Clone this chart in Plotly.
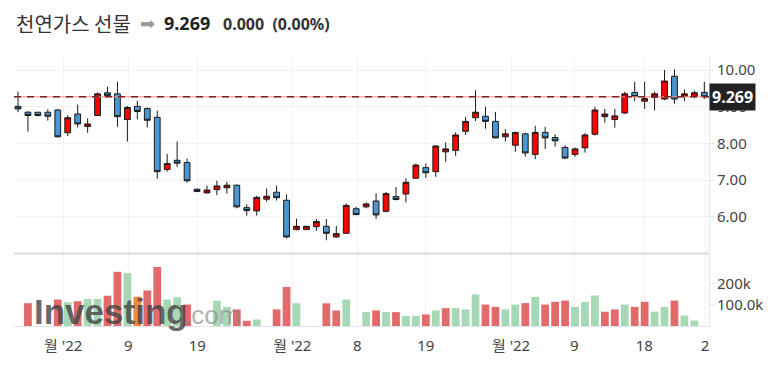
import plotly.graph_objects as go

# ---------------- data ----------------
opens  = [9.01, 8.85, 8.85, 8.85, 8.91, 8.29, 8.80, 8.46, 8.76, 9.38,
          9.35, 8.65, 9.01, 8.95, 8.71, 7.29, 7.54, 7.48, 6.75, 6.65,
          6.74, 6.79, 6.86, 6.25, 6.16, 6.48, 6.67, 6.45, 5.65, 5.65,
          5.73, 5.74, 5.45, 5.55, 6.22, 6.27, 6.43, 6.15, 6.55, 6.62,
          7.05, 7.34, 7.23, 7.77, 7.81, 8.33, 8.70, 8.74, 8.60, 8.18,
          7.95, 8.26, 7.70, 8.30, 8.16, 7.89, 7.70, 7.88, 8.25, 8.73,
          8.65, 8.83, 9.39, 9.15, 9.25, 9.21, 9.83, 9.28, 9.28, 9.39]
highs  = [9.41, 8.88, 8.86, 8.93, 8.94, 8.77, 9.06, 8.68, 9.39, 9.54,
          9.68, 9.02, 9.16, 8.98, 8.89, 7.71, 8.05, 7.59, 6.77, 6.85,
          6.98, 6.95, 6.88, 6.34, 6.57, 6.77, 6.85, 6.61, 5.95, 5.75,
          5.94, 5.94, 5.75, 6.36, 6.27, 6.39, 6.64, 6.68, 6.81, 7.05,
          7.45, 7.45, 7.95, 8.03, 8.30, 8.72, 9.45, 9.00, 8.86, 8.39,
          8.32, 8.29, 8.48, 8.45, 8.25, 7.95, 7.89, 8.28, 9.00, 8.94,
          8.94, 9.41, 9.68, 9.68, 9.41, 10.00, 10.02, 9.47, 9.44, 9.68]
lows   = [8.85, 8.32, 8.74, 8.62, 8.16, 8.20, 8.43, 8.29, 8.75, 9.25,
          8.45, 8.05, 8.66, 8.43, 7.03, 7.23, 7.36, 6.93, 6.67, 6.64,
          6.59, 6.63, 6.23, 6.03, 6.03, 6.41, 6.44, 5.41, 5.63, 5.64,
          5.62, 5.36, 5.43, 5.53, 6.04, 6.23, 5.94, 6.12, 6.45, 6.39,
          7.03, 7.06, 7.09, 7.50, 7.66, 8.23, 8.61, 8.40, 8.14, 8.05,
          7.77, 7.64, 7.57, 7.85, 7.91, 7.57, 7.64, 7.75, 8.21, 8.56,
          8.43, 8.80, 9.15, 8.94, 8.90, 9.18, 9.08, 9.15, 9.23, 9.21]
closes = [8.94, 8.76, 8.76, 8.74, 8.18, 8.70, 8.53, 8.53, 9.35, 9.30,
          8.73, 8.98, 8.87, 8.63, 7.23, 7.45, 7.46, 6.98, 6.69, 6.73,
          6.84, 6.86, 6.27, 6.17, 6.53, 6.56, 6.52, 5.45, 5.74, 5.74,
          5.87, 5.55, 5.54, 6.31, 6.06, 6.35, 6.05, 6.63, 6.47, 6.94,
          7.41, 7.20, 7.93, 7.85, 8.23, 8.60, 8.85, 8.60, 8.15, 8.26,
          8.30, 7.74, 8.30, 8.15, 8.07, 7.60, 7.85, 8.23, 8.91, 8.80,
          8.75, 9.35, 9.28, 9.22, 9.35, 9.70, 9.21, 9.35, 9.38, 9.269]

# volume in thousands (None = no bar) and its colour class
volumes = [None, 108.7, None, None, 126, 113.5, 118, 128, 129, 144,
           258, 251, 139, 169, 281, 126, 137, 102, None, None,
           120, 90, 79, 25, 31, None, 79, 186, 108, None,
           None, 108, 74, 126, None, 66, 74, 66, 66, 48,
           48, 55, 74, 85, 85, 79, 150, 102, 91, 79,
           102, 109, 139, 102, 115, 121, 91, 115, 145, 68,
           79, 102, 91, 115, 68, 91, 121, 50, 26, None]
vol_kind = ["g", "r", "g", "g", "r", "g", "r", "g", "g", "r",
            "r", "g", "o", "r", "r", "g", "g", "r", "g", "g",
            "g", "g", "r", "r", "g", "g", "r", "r", "g", "g",
            "g", "r", "r", "g", "g", "g", "r", "g", "r", "g",
            "g", "r", "g", "r", "g", "g", "g", "r", "r", "g",
            "g", "r", "g", "r", "r", "r", "g", "g", "g", "r",
            "r", "g", "r", "r", "g", "g", "r", "g", "g", "g"]

last_price = 9.269
x_tick_pos = [4.55, 11.09, 18.03, 27.58, 34.11, 40.99, 49.57, 55.93, 62.97, 69.07]
x_tick_txt = ["월 '22", "9", "19", "월 '22", "8", "19", "월 '22", "9", "18", "2"]
price_ticks = [6, 7, 8, 9, 10]
price_tick_txt = ["6.00", "7.00", "8.00", "9.00", "10.00"]
vol_ticks = [100000, 200000]
vol_tick_txt = ["100.0k", "200k"]

# ---------------- figure ----------------
idx = list(range(len(closes)))
vol_colors = {"r": "#e36a6a", "g": "#a6d8b6", "o": "#f0893a"}

fig = go.Figure()
fig.add_trace(go.Candlestick(
    x=idx, open=opens, high=highs, low=lows, close=closes,
    increasing=dict(fillcolor="#ff0000", line=dict(color="#1a1a1a", width=1)),
    decreasing=dict(fillcolor="#4b96d1", line=dict(color="#1a1a1a", width=1)),
    xaxis="x", yaxis="y", hoverinfo="skip", showlegend=False))

vx = [i for i, v in zip(idx, volumes) if v is not None]
vy = [v * 1000 for v in volumes if v is not None]
vc = [vol_colors[k] for k, v in zip(vol_kind, volumes) if v is not None]
fig.add_trace(go.Bar(x=vx, y=vy, marker=dict(color=vc, line=dict(width=0)),
                     width=0.78, xaxis="x2", yaxis="y2", showlegend=False,
                     hoverinfo="skip"))

# the page body has an 8px margin: figure pixel = page pixel - 8
OFF = 8
W, H = 781 - OFF, 365 - OFF
L, T = 14 - OFF, 57 - OFF
R = W - (709 - OFF)
B = H - (326 - OFF)
pw, ph = W - L - R, H - T - B


def px(xpage):
    return (xpage - OFF - L) / pw


def py(ypage):
    return (H - B - (ypage - OFF)) / ph


tickfont = dict(family="Noto Sans, Noto Sans CJK KR, sans-serif", size=15, color="#444")
xr = [-0.40, 69.47]

fig.update_layout(
    width=W, height=H, margin=dict(l=L, r=R, t=T, b=B, autoexpand=False),
    paper_bgcolor="white", plot_bgcolor="white",
    boxgap=0.3, boxgroupgap=0.17,
    xaxis=dict(domain=[0, 1], anchor="y", range=xr, tickvals=x_tick_pos,
               showticklabels=False, showgrid=True, gridcolor="#f3f3f3",
               zeroline=False, rangeslider=dict(visible=False), ticks=""),
    xaxis2=dict(domain=[0, 1], anchor="y2", matches="x", range=xr,
                tickvals=x_tick_pos, ticktext=x_tick_txt, tickfont=tickfont,
                showgrid=True, gridcolor="#f3f3f3", zeroline=False,
                showline=True, linecolor="#dfe4ea", linewidth=1,
                ticks="outside", ticklen=6, tickcolor="rgba(0,0,0,0)"),
    yaxis=dict(domain=[0.271, 1], anchor="x", side="right", range=[5.01, 10.355],
               tickvals=price_ticks, ticktext=price_tick_txt, tickfont=tickfont,
               showgrid=True, gridcolor="#f2f2f2", zeroline=False,
               showline=True, linecolor="#e3e7ec", ticks="outside", ticklen=4,
               tickcolor="#dfe3e8"),
    yaxis2=dict(domain=[0, 0.268], anchor="x2", side="right", range=[0, 343000],
                tickvals=vol_ticks, ticktext=vol_tick_txt, tickfont=tickfont,
                showgrid=False, zeroline=False, showline=True, linecolor="#e3e7ec",
                ticks="outside", ticklen=4, tickcolor="#dfe3e8"),
)

# last price line (light pink under-line + dark red dashes)
fig.add_shape(type="line", xref="paper", yref="y", x0=0, x1=1, y0=last_price, y1=last_price,
              line=dict(color="rgba(240,140,140,0.7)", width=1.5))
fig.add_shape(type="line", xref="paper", yref="y", x0=0, x1=1, y0=last_price, y1=last_price,
              line=dict(color="#7a2424", width=1.5, dash="7px,6px"))
# pane separator
fig.add_shape(type="line", xref="paper", yref="paper", x0=0, x1=1, y0=py(253.5), y1=py(253.5),
              line=dict(color="#dcdcdc", width=2))

# price label box
fig.add_annotation(xref="paper", yref="y", x=1, y=last_price, xanchor="left", yanchor="middle",
                   text="<b>9.269</b>", showarrow=False, bgcolor="#222222", borderpad=2,
                   font=dict(family="Noto Sans, sans-serif", size=16, color="white"))

# title row
fig.add_annotation(xref="paper", yref="paper", x=px(14), y=py(23), xanchor="left", yanchor="middle",
                   text="천연가스 선물", showarrow=False,
                   font=dict(family="Noto Sans CJK KR, sans-serif", size=20, color="#333"))
fig.add_annotation(xref="paper", yref="paper", x=px(147), y=py(24), xanchor="center", yanchor="middle",
                   text="➡", showarrow=False,
                   font=dict(family="DejaVu Sans, sans-serif", size=18, color="#9a9a9a"))
fig.add_annotation(xref="paper", yref="paper", x=px(162), y=py(23), xanchor="left", yanchor="middle",
                   text="<b>9.269</b>", showarrow=False,
                   font=dict(family="Noto Sans, sans-serif", size=18, color="#222"))
fig.add_annotation(xref="paper", yref="paper", x=px(221), y=py(23.5), xanchor="left", yanchor="middle",
                   text="<b>0.000  (0.00%)</b>", showarrow=False,
                   font=dict(family="Noto Sans, sans-serif", size=16, color="#333"))

# watermark
fig.add_annotation(xref="paper", yref="paper", x=px(32), y=py(311), xanchor="left", yanchor="middle",
                   text="<b>Investing</b>", showarrow=False, opacity=0.8,
                   font=dict(family="Liberation Sans, Arial, sans-serif", size=35, color="#454545"))
fig.add_annotation(xref="paper", yref="paper", x=px(182), y=py(315), xanchor="left", yanchor="middle",
                   text=".com", showarrow=False, opacity=0.65,
                   font=dict(family="Liberation Sans, Arial, sans-serif", size=26, color="#8a8a8a"))

fig.write_html("out.html")
